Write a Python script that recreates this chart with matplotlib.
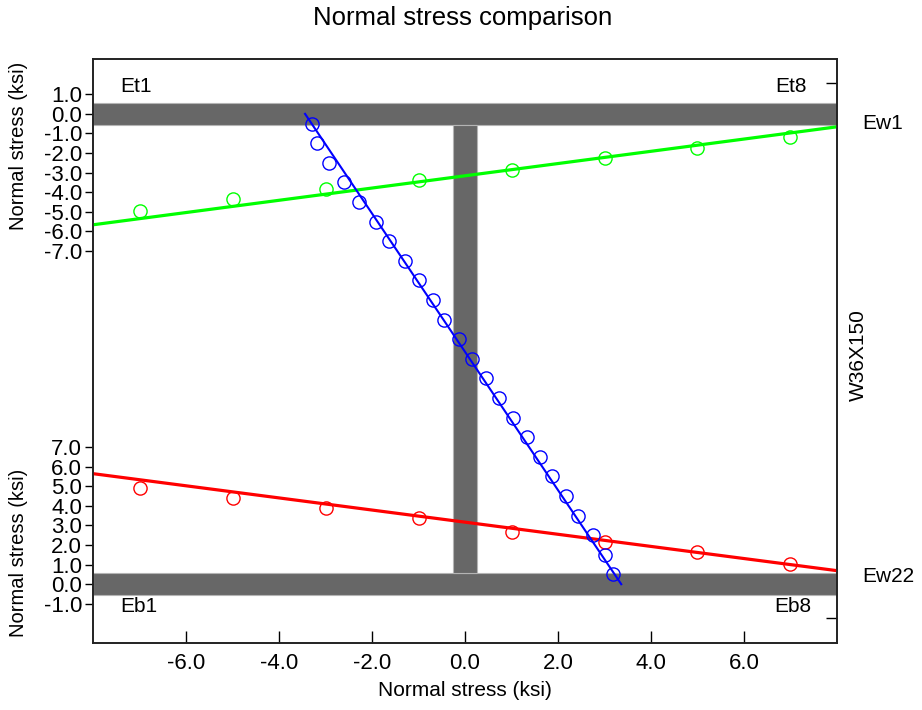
import numpy as np
import matplotlib
matplotlib.use("Agg")
import matplotlib.pyplot as plt

plt.rcParams['font.family'] = ['Liberation Sans', 'DejaVu Sans']
narrow = ['Liberation Sans Narrow', 'Liberation Sans', 'DejaVu Sans']

# flange gauge positions (ksi axis across the flange width)
flange_x = [-7, -5, -3, -1, 1, 3, 5, 7]
top_stress = [-4.95, -4.34, -3.83, -3.36, -2.86, -2.24, -1.73, -1.17]
bot_stress = [4.92, 4.41, 3.90, 3.36, 2.66, 2.17, 1.66, 1.05]

# fitted lines, values at the ends of the flange
fit_x = [-8, 8]
top_fit = [-5.66, -0.66]
bot_fit = [5.64, 0.69]

# web gauges: stress and position below the top flange
web_stress = [-3.28, -3.19, -2.92, -2.60, -2.29, -1.92, -1.63, -1.30,
              -0.99, -0.69, -0.45, -0.14, 0.14, 0.45, 0.74, 1.04,
              1.33, 1.61, 1.88, 2.17, 2.42, 2.75, 3.00, 3.19]
web_depth = [-0.5 - k for k in range(24)]
web_fit_stress = [-3.44, 3.36]
web_fit_depth = [0, -24]

depth = 24  # distance between flange centres in plot units
top_ticks = [1, 0, -1, -2, -3, -4, -5, -6, -7]
bot_ticks = [7, 6, 5, 4, 3, 2, 1, 0, -1]
x_ticks = [-6, -4, -2, 0, 2, 4, 6]

fig = plt.figure(figsize=(9.22, 7.10), dpi=100)
ax = fig.add_axes([0.1009, 0.0944, 0.8069, 0.8225])
ax.set_xlim(-8, 8)
ax.set_ylim(-27.0, 2.8)

gray = '#676767'
edge = '#b4b4b4'
# I-beam shape
ax.axhspan(-0.55, 0.55, color=gray, ec=edge, lw=0.8, zorder=1)
ax.axhspan(-depth - 0.55, -depth + 0.55, color=gray, ec=edge, lw=0.8, zorder=1)
ax.fill_betweenx([-depth + 0.55, -0.55], -0.25, 0.25, color=gray, ec=edge, lw=0.8, zorder=1)

# top flange (green), bottom flange (red), web (blue)
ax.plot(fit_x, top_fit, color='#00ff00', lw=2.3, zorder=3)
ax.plot(flange_x, top_stress, 'o', ms=9.5, mfc='none', mec='#00ff00', mew=1.0, zorder=4)
ax.plot(fit_x, np.array(bot_fit) - depth, color='#ff0000', lw=2.3, zorder=3)
ax.plot(flange_x, np.array(bot_stress) - depth, 'o', ms=9.5, mfc='none', mec='#ff0000', mew=1.0, zorder=4)
ax.plot(web_fit_stress, web_fit_depth, color='#0000ff', lw=1.5, zorder=5)
ax.plot(web_stress, web_depth, 'o', ms=9.5, mfc='none', mec='#0000ff', mew=1.0, zorder=6)

yt = top_ticks + [v - depth for v in bot_ticks]
ylab = ['%.1f' % v for v in top_ticks] + ['%.1f' % v for v in bot_ticks]
ax.set_yticks(yt)
ax.set_yticklabels(ylab, fontsize=16, family=narrow)
ax.tick_params(axis='y', direction='out', length=6, width=1, pad=2)
ax.set_xticks(x_ticks)
ax.set_xticklabels(['%.1f' % v for v in x_ticks], fontsize=16, family=narrow)
ax.tick_params(axis='x', direction='in', length=9, width=1, pad=7)

ax2 = ax.twinx()
ax2.set_ylim(ax.get_ylim())
ax2.set_yticks([1.6, -25.7])
ax2.set_yticklabels([])
ax2.tick_params(axis='y', direction='in', length=8, width=1)

for a in (ax, ax2):
    for s in a.spines.values():
        s.set_linewidth(1.2)
        s.set_color('#222222')

ax.set_xlabel('Normal stress (ksi)', fontsize=15, labelpad=5)
fig.text(0.02, 0.795, 'Normal stress (ksi)', rotation=90, fontsize=14.5, ha='center', va='center')
fig.text(0.02, 0.222, 'Normal stress (ksi)', rotation=90, fontsize=14.5, ha='center', va='center')
fig.text(0.502, 0.975, 'Normal stress comparison', fontsize=18.5, ha='center', va='center')

ax.text(-7.42, 1.38, 'Et1', fontsize=15, ha='left', va='center')
ax.text(7.35, 1.38, 'Et8', fontsize=15, ha='right', va='center')
ax.text(-7.42, -25.15, 'Eb1', fontsize=15, ha='left', va='center')
ax.text(7.45, -25.15, 'Eb8', fontsize=15, ha='right', va='center')
ax.text(8.55, -0.5, 'Ew1', fontsize=15, ha='left', va='center', clip_on=False)
ax.text(8.55, -23.6, 'Ew22', fontsize=15, ha='left', va='center', clip_on=False)
ax.text(8.45, -12.3, 'W36X150', fontsize=15, rotation=90, ha='center', va='center', clip_on=False)

fig.savefig('out.png', dpi=100)
